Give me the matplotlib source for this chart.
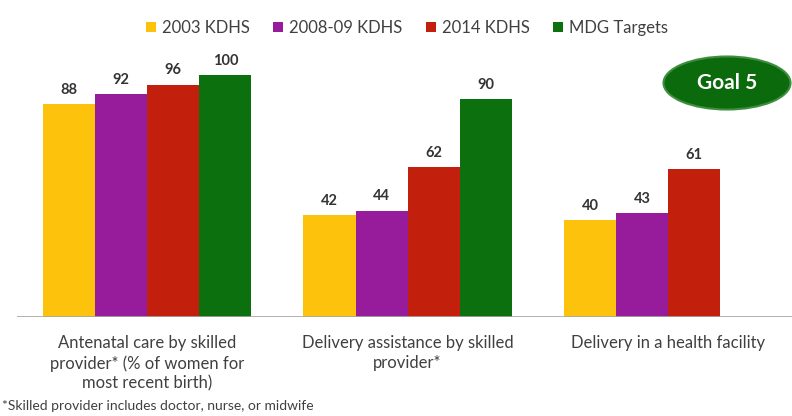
import numpy as np
import matplotlib
matplotlib.use("Agg")
import matplotlib.pyplot as plt
from matplotlib.patches import Ellipse

plt.rcParams['font.family'] = ['Lato', 'DejaVu Sans']

categories = [
    "Antenatal care by skilled\nprovider* (% of women for\nmost recent birth)",
    "Delivery assistance by skilled\nprovider*",
    "Delivery in a health facility",
]
series_names = ["2003 KDHS", "2008-09 KDHS", "2014 KDHS", "MDG Targets"]
kdhs_2003 = [88, 42, 40]
kdhs_2008 = [92, 44, 43]
kdhs_2014 = [96, 62, 61]
mdg_targets = [100, 90, np.nan]
colors = ["#FDC20C", "#971C9C", "#C2200C", "#0B700D"]
footnote = "*Skilled provider includes doctor, nurse, or midwife"

W, H = 792, 416
fig = plt.figure(figsize=(W / 100, H / 100), dpi=100)
ax = fig.add_axes([17 / W, (H - 317) / H, 1 - 17 / W, 266.2 / H])

x = np.arange(len(categories))
bw = 0.2
all_series = [kdhs_2003, kdhs_2008, kdhs_2014, mdg_targets]
handles = []
for i, (vals, col, name) in enumerate(zip(all_series, colors, series_names)):
    pos = x + (i - 1.5) * bw
    bars = ax.bar(pos, vals, width=bw, color=col, label=name, linewidth=0)
    handles.append(bars)
    for p, v in zip(pos, vals):
        if np.isnan(v):
            continue
        ax.text(p, v + 3, f"{v:g}", ha="center", va="bottom", fontsize=10.5,
                fontweight="bold", color="#333333")

ax.set_xlim(-0.5, 2.476)
ax.set_ylim(0, 110)
ax.axhline(0, color="#A6A6A6", linewidth=1.2)
for s in ax.spines.values():
    s.set_visible(False)
ax.set_yticks([])
ax.set_xticks(x)
ax.set_xticklabels(categories, fontsize=12, color="#404040", linespacing=1.3)
ax.tick_params(axis="x", length=0, pad=13)

leg = fig.legend(handles=handles, labels=series_names, loc="center",
                 bbox_to_anchor=(407 / W, 1 - 28 / H), ncol=4, frameon=False,
                 fontsize=12, handlelength=0.6, handleheight=0.6,
                 handletextpad=0.35, columnspacing=1.4)
for t in leg.get_texts():
    t.set_color("#404040")

ell = Ellipse((727 / W, 1 - 83 / H), 127 / W, 53 / H, transform=fig.transFigure,
              facecolor="#0B6A0B", edgecolor="#3E8E3E", linewidth=1.5)
fig.add_artist(ell)
fig.text(727 / W, 1 - 83 / H, "Goal 5", ha="center", va="center",
         fontsize=15, fontweight="bold", color="white")

fig.text(2 / W, 1 - 406 / H, footnote, ha="left", va="center",
         fontsize=10, color="#404040")

fig.savefig("out.png", dpi=100, facecolor="white")
